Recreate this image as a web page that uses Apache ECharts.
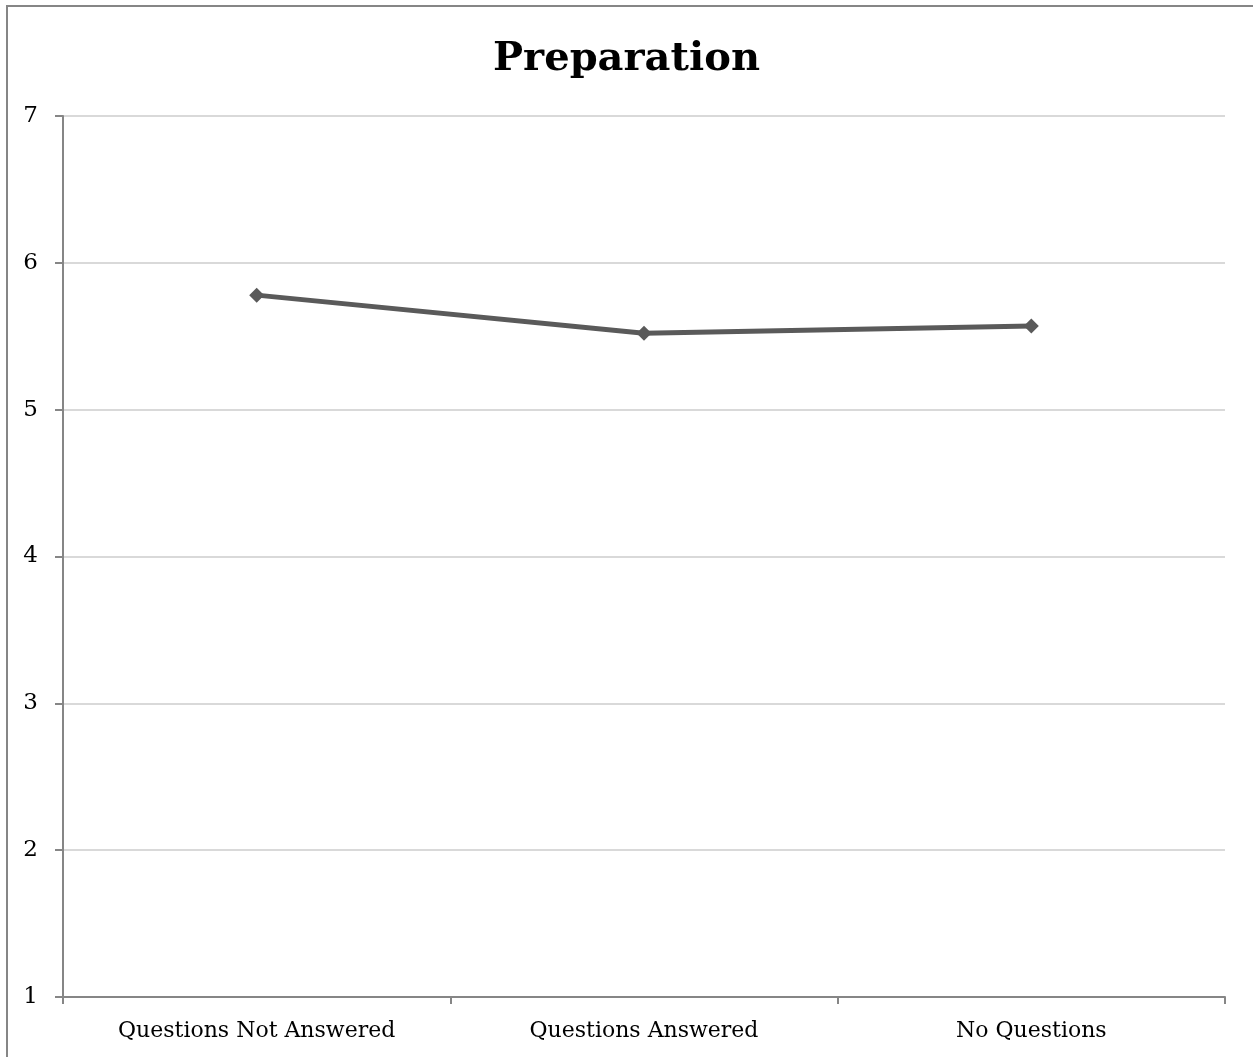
<!DOCTYPE html>
<html>
<head>
<meta charset="utf-8">
<script src="https://cdn.jsdelivr.net/npm/echarts@6/dist/echarts.min.js"></script>
<style>
html,body{margin:0;padding:0;background:#fff;}
#chart{width:1253px;height:1057px;}
</style>
</head>
<body>
<div id="chart"></div>
<script>
const categories = ["Questions Not Answered", "Questions Answered", "No Questions"];
const values = [5.78, 5.52, 5.57];
const yTicks = [1, 2, 3, 4, 5, 6, 7];

const chart = echarts.init(document.getElementById('chart'), null, {renderer: 'canvas'});
chart.setOption({
  animation: false,
  backgroundColor: '#fff',
  title: {
    text: 'Preparation',
    left: 'center',
    top: 35,
    textStyle: {fontFamily: 'DejaVu Serif', fontWeight: 'bold', fontSize: 40, color: '#000'}
  },
  graphic: [{
    type: 'rect',
    shape: {x: 7, y: 6, width: 1400, height: 1200},
    style: {fill: 'none', stroke: '#868686', lineWidth: 2},
    silent: true
  }],
  grid: {left: 63, right: 28, top: 116, bottom: 60},
  xAxis: {
    type: 'category',
    data: categories,
    boundaryGap: true,
    axisLine: {lineStyle: {color: '#868686', width: 2}},
    axisTick: {show: true, length: 7, alignWithLabel: false, lineStyle: {color: '#868686', width: 2}},
    axisLabel: {margin: 23, fontFamily: 'DejaVu Serif', fontSize: 22, color: '#000'},
    splitLine: {show: false}
  },
  yAxis: {
    type: 'value',
    min: yTicks[0],
    max: yTicks[yTicks.length - 1],
    interval: 1,
    axisLine: {show: true, lineStyle: {color: '#868686', width: 2}},
    axisTick: {show: true, length: 8, lineStyle: {color: '#868686', width: 2}},
    axisLabel: {margin: 25, fontFamily: 'DejaVu Serif', fontSize: 23, color: '#000'},
    splitLine: {show: true, lineStyle: {color: '#d9d9d9', width: 2}}
  },
  series: [{
    type: 'line',
    data: values,
    symbol: 'diamond',
    symbolSize: 15,
    lineStyle: {color: '#5a5a5a', width: 5},
    itemStyle: {color: '#5a5a5a'}
  }]
});
</script>
</body>
</html>
